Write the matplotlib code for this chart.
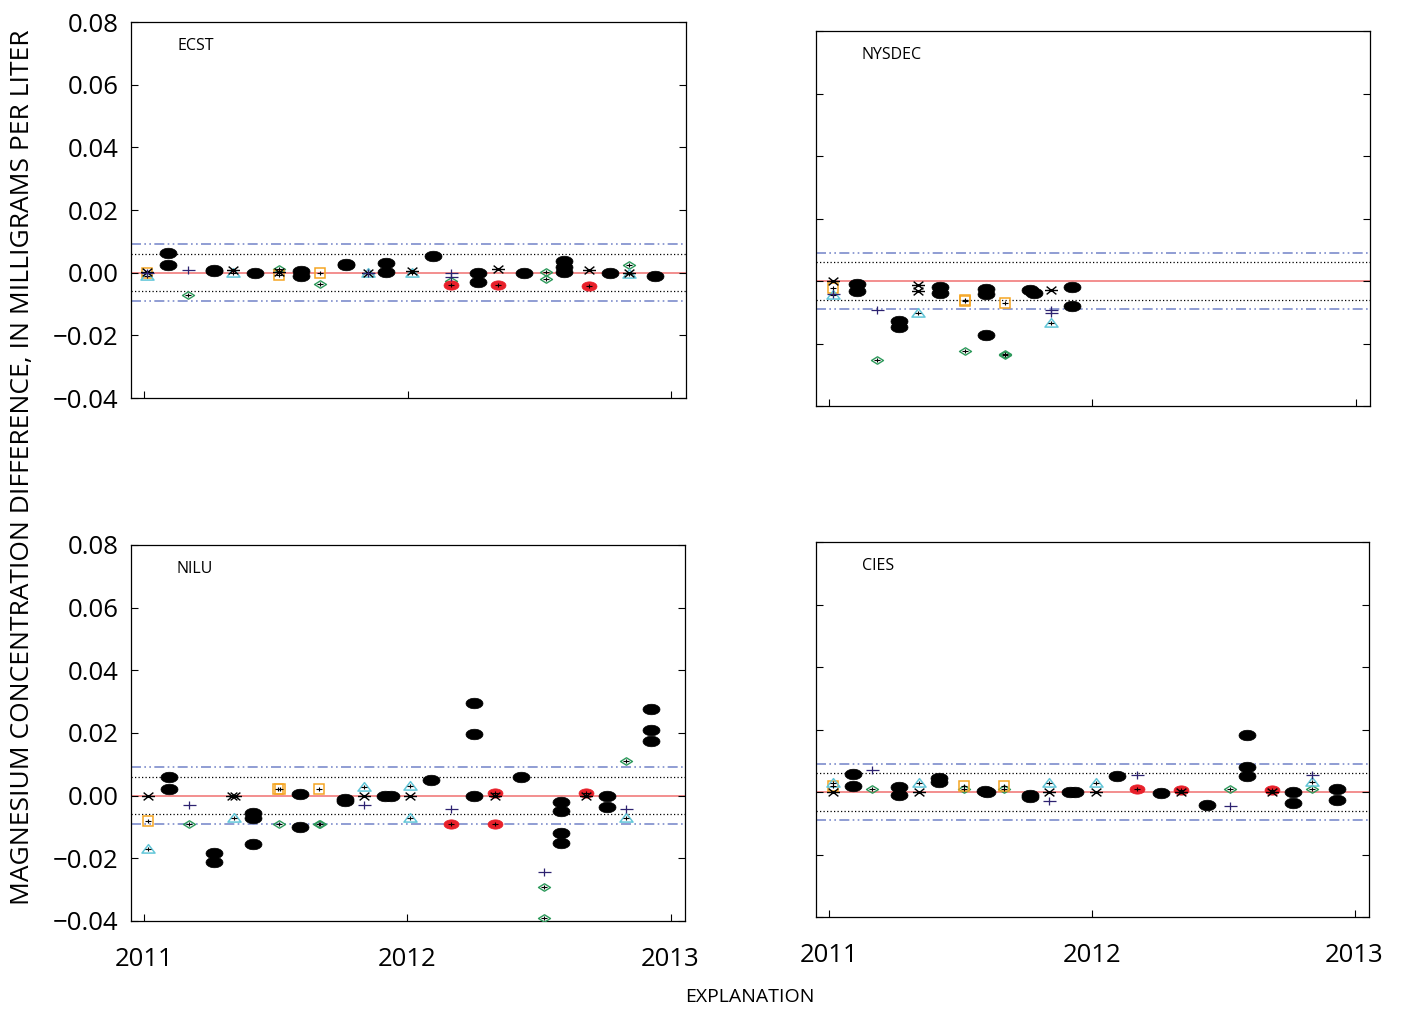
"""Magnesium concentration differences, four labs, 2011-2013."""
import matplotlib
matplotlib.use("Agg")
import matplotlib.pyplot as plt
import numpy as np
from matplotlib.path import Path

# data: (decimal year, difference in mg/L)
ECST_ELLIPSE = [(2011.090, 0.0063), (2011.090, 0.0023), (2011.263, 0.0008), (2011.263, 0.0005),
                (2011.419, -0.0002), (2011.593, 0.0006), (2011.593, -0.0010), (2011.767, 0.0028),
                (2011.767, 0.0024), (2011.917, 0.0031), (2011.917, 0.0003), (2012.094, 0.0052),
                (2012.267, 0.0000), (2012.267, -0.0031), (2012.441, 0.0000), (2012.593, 0.0036),
                (2012.593, 0.0017), (2012.593, 0.0002), (2012.767, 0.0000), (2012.937, -0.0011)]
ECST_STAR = [(2011.011, 0.0003), (2011.335, 0.0010), (2011.512, 0.0003), (2011.849, 0.0000),
             (2012.015, 0.0006), (2012.341, 0.0011), (2012.686, 0.0010), (2012.838, 0.0000)]
ECST_CROSS = [(2011.011, 0.0000), (2011.165, 0.0009), (2011.849, 0.0000), (2012.165, -0.0002),
              (2012.165, -0.0013)]
ECST_TRIANGLE = [(2011.011, -0.0011), (2011.335, -0.0002), (2011.849, -0.0001), (2012.015, -0.0002),
                 (2012.838, -0.0003)]
ECST_SQUARE = [(2011.011, 0.0000), (2011.512, -0.0008), (2011.665, 0.0000)]
ECST_DIAMOND = [(2011.165, -0.0070), (2011.512, 0.0012), (2011.665, -0.0035), (2012.165, -0.0028),
                (2012.525, 0.0001), (2012.525, -0.0020), (2012.838, 0.0023)]
ECST_RED = [(2012.165, -0.0040), (2012.341, -0.0040), (2012.686, -0.0041)]

NYSDEC_ELLIPSE = [(2011.105, -0.0010), (2011.105, -0.0031), (2011.267, -0.0129), (2011.267, -0.0148),
                  (2011.420, -0.0020), (2011.420, -0.0038), (2011.595, -0.0024), (2011.595, -0.0042),
                  (2011.595, -0.0172), (2011.765, -0.0030), (2011.780, -0.0038), (2011.924, -0.0020),
                  (2011.924, -0.0081)]
NYSDEC_STAR = [(2011.015, 0.0001), (2011.339, -0.0013), (2011.339, -0.0031), (2011.842, -0.0029)]
NYSDEC_CROSS = [(2011.015, -0.0040), (2011.182, -0.0092), (2011.842, -0.0094), (2011.842, -0.0102)]
NYSDEC_TRIANGLE = [(2011.015, -0.0045), (2011.339, -0.0102), (2011.842, -0.0135)]
NYSDEC_SQUARE = [(2011.015, -0.0022), (2011.516, -0.0060), (2011.516, -0.0063), (2011.667, -0.0070)]
NYSDEC_DIAMOND = [(2011.182, -0.0253), (2011.516, -0.0223), (2011.667, -0.0235), (2011.667, -0.0238)]
NYSDEC_RED = []

NILU_ELLIPSE = [(2011.094, 0.0061), (2011.094, 0.0020), (2011.266, -0.0184), (2011.266, -0.0211),
                (2011.414, -0.0054), (2011.414, -0.0070), (2011.414, -0.0155), (2011.591, 0.0005),
                (2011.591, -0.0100), (2011.762, -0.0010), (2011.762, -0.0018), (2011.917, 0.0000),
                (2011.937, 0.0000), (2012.089, 0.0050), (2012.255, 0.0295), (2012.255, 0.0196),
                (2012.255, 0.0000), (2012.433, 0.0061), (2012.582, -0.0019), (2012.582, -0.0049),
                (2012.582, -0.0120), (2012.582, -0.0150), (2012.757, 0.0000), (2012.757, -0.0035),
                (2012.926, 0.0276), (2012.926, 0.0210), (2012.926, 0.0174)]
NILU_STAR = [(2011.013, 0.0000), (2011.335, 0.0000), (2011.345, 0.0000), (2011.837, 0.0000),
             (2012.009, 0.0000), (2012.332, 0.0000), (2012.679, 0.0000)]
NILU_CROSS = [(2011.169, -0.0030), (2011.837, -0.0031), (2012.166, -0.0044), (2012.518, -0.0245),
              (2012.829, -0.0044)]
NILU_TRIANGLE = [(2011.013, -0.0171), (2011.340, -0.0070), (2011.837, 0.0029), (2012.009, 0.0030),
                 (2012.009, -0.0070), (2012.829, -0.0070)]
NILU_SQUARE = [(2011.013, -0.0080), (2011.508, 0.0020), (2011.518, 0.0020), (2011.664, 0.0020)]
NILU_DIAMOND = [(2011.169, -0.0089), (2011.513, -0.0089), (2011.664, -0.0089), (2011.670, -0.0089),
                (2012.166, -0.0089), (2012.518, -0.0290), (2012.518, -0.0391), (2012.829, 0.0110)]
NILU_RED = [(2012.166, -0.0089), (2012.332, 0.0010), (2012.332, -0.0089), (2012.679, 0.0010)]

CIES_ELLIPSE = [(2011.090, 0.0059), (2011.090, 0.0018), (2011.266, 0.0015), (2011.266, -0.0011),
                (2011.419, 0.0045), (2011.419, 0.0031), (2011.592, 0.0002), (2011.600, 0.0000),
                (2011.765, -0.0016), (2011.765, -0.0008), (2011.917, 0.0000), (2011.937, 0.0000),
                (2012.094, 0.0050), (2012.263, -0.0003), (2012.437, -0.0041), (2012.589, 0.0181),
                (2012.589, 0.0080), (2012.589, 0.0050), (2012.765, 0.0000), (2012.765, -0.0035),
                (2012.935, 0.0010), (2012.935, -0.0025)]
CIES_STAR = [(2011.015, 0.0000), (2011.341, 0.0000), (2011.836, 0.0000), (2012.014, 0.0000),
             (2012.338, 0.0000), (2012.684, 0.0000)]
CIES_CROSS = [(2011.164, 0.0070), (2011.836, -0.0030), (2012.171, 0.0056), (2012.525, -0.0046),
              (2012.837, 0.0056)]
CIES_TRIANGLE = [(2011.015, 0.0029), (2011.341, 0.0029), (2011.836, 0.0029), (2012.014, 0.0029),
                 (2012.837, 0.0031)]
CIES_SQUARE = [(2011.015, 0.0018), (2011.514, 0.0018), (2011.666, 0.0018)]
CIES_DIAMOND = [(2011.164, 0.0009), (2011.514, 0.0011), (2011.666, 0.0009), (2012.171, 0.0010),
                (2012.525, 0.0010), (2012.837, 0.0011)]
CIES_RED = [(2012.171, 0.0010), (2012.338, 0.0007), (2012.684, 0.0007)]

LAB_NAMES = ["ECST", "NYSDEC", "NILU", "CIES"]
YEAR_TICKS = [2011, 2012, 2013]
Y_TICKS = [-0.04, -0.02, 0.00, 0.02, 0.04, 0.06, 0.08]
DOTTED_LIMIT = 0.006
DASHED_LIMIT = 0.009

plt.rcParams["font.family"] = ["Open Sans", "DejaVu Sans"]
PT = 0.72  # points per pixel at dpi 100

# marker shapes
th = np.linspace(0, 2 * np.pi, 60)
ELLIPSE = Path(np.column_stack([np.cos(th), 0.62 * np.sin(th)]), closed=True)
TRIANGLE = Path([(-1, -0.55), (1, -0.55), (0, 0.75), (-1, -0.55)], closed=True)
DIAMOND = Path([(-1, 0), (0, 0.62), (1, 0), (0, -0.62), (-1, 0)], closed=True)
CROSS = Path([(-1, 0), (1, 0), (0, -0.6), (0, 0.6)],
             [Path.MOVETO, Path.LINETO, Path.MOVETO, Path.LINETO])
STAR = Path([(-1, 0), (1, 0), (-0.75, -0.6), (0.75, 0.6), (-0.75, 0.6), (0.75, -0.6)],
            [Path.MOVETO, Path.LINETO] * 3)
SMALL_PLUS = Path([(-1, 0), (1, 0), (0, -0.8), (0, 0.8)],
                  [Path.MOVETO, Path.LINETO, Path.MOVETO, Path.LINETO])


def draw(ax, pts, plus=False, **kw):
    if not pts:
        return
    xs, ys = zip(*pts)
    ax.plot(xs, ys, ls="none", **kw)
    if plus:
        ax.plot(xs, ys, ls="none", marker=SMALL_PLUS, ms=6 * PT, mfc="none",
                mec="black", mew=0.8, zorder=kw.get("zorder", 3) + 0.5)


fig = plt.figure(figsize=(14.05, 10.15), dpi=100)
W, H = 1405, 1015
boxes = [(131, 686, 22, 398), (816, 1370, 31, 406), (131, 685, 545, 921), (816, 1369, 542, 917)]
panels = [
    (ECST_ELLIPSE, ECST_STAR, ECST_CROSS, ECST_TRIANGLE, ECST_SQUARE, ECST_DIAMOND, ECST_RED),
    (NYSDEC_ELLIPSE, NYSDEC_STAR, NYSDEC_CROSS, NYSDEC_TRIANGLE, NYSDEC_SQUARE, NYSDEC_DIAMOND, NYSDEC_RED),
    (NILU_ELLIPSE, NILU_STAR, NILU_CROSS, NILU_TRIANGLE, NILU_SQUARE, NILU_DIAMOND, NILU_RED),
    (CIES_ELLIPSE, CIES_STAR, CIES_CROSS, CIES_TRIANGLE, CIES_SQUARE, CIES_DIAMOND, CIES_RED),
]

for i, (name, (l, r, t, b), data) in enumerate(zip(LAB_NAMES, boxes, panels)):
    ax = fig.add_axes([l / W, 1 - b / H, (r - l) / W, (b - t) / H])
    ell, star, cross, tri, sq, dia, red = data

    ax.axhline(0, color="#f07070", lw=1.1, zorder=1)
    for s in (1, -1):
        ax.axhline(s * DOTTED_LIMIT, color="black", lw=0.9, ls=(0, (1, 1.8)), zorder=1)
        ax.axhline(s * DASHED_LIMIT, color="#7d8ccc", lw=1.2, ls=(0, (6, 2, 1, 2, 1, 2)), zorder=1)

    draw(ax, dia, plus=True, marker=DIAMOND, ms=12 * PT, mfc="none", mec="#2e9a5c", mew=1.0, zorder=3)
    draw(ax, sq, plus=True, marker="s", ms=10 * PT, mfc="none", mec="#f5a623", mew=1.1, zorder=3.2)
    draw(ax, tri, plus=True, marker=TRIANGLE, ms=13 * PT, mfc="none", mec="#62c6d8", mew=1.1, zorder=3.4)
    draw(ax, red, plus=True, marker=ELLIPSE, ms=15 * PT, mfc="#e8202a", mec="#e8202a", mew=0.5, zorder=3.6)
    draw(ax, ell, marker=ELLIPSE, ms=17 * PT, mfc="black", mec="black", mew=0.5, zorder=4)
    draw(ax, star, marker=STAR, ms=13 * PT, mfc="none", mec="black", mew=1.0, zorder=4.5)
    draw(ax, cross, marker=CROSS, ms=13 * PT, mfc="none", mec="#2d2270", mew=0.9, zorder=4.6)

    ax.set_xlim(2010.95, 2013.055)
    ax.set_ylim(-0.04, 0.08)
    ax.set_xticks(YEAR_TICKS)
    ax.set_yticks(Y_TICKS)
    ax.tick_params(axis="y", direction="in", length=5, width=0.8, left=True, right=True,
                   labelsize=18.5, pad=9, labelleft=(i % 2 == 0))
    ax.tick_params(axis="x", direction="in", length=5, width=0.8, labelsize=18.5, pad=19,
                   labelbottom=(i >= 2))
    ax.set_yticklabels([f"{v:.2f}".replace("-", "\u2212") for v in Y_TICKS])
    for sp in ax.spines.values():
        sp.set_linewidth(0.9)
    ax.text(0.083, 0.937, name, transform=ax.transAxes, fontsize=11.5, ha="left", va="center")

fig.text(0.0157, 0.54, "MAGNESIUM CONCENTRATION DIFFERENCE, IN MILLIGRAMS PER LITER",
         rotation=90, ha="center", va="center", fontsize=19)
fig.text(0.534, 0.0177, "EXPLANATION", ha="center", va="center", fontsize=14)

fig.savefig("out.png", dpi=100)
